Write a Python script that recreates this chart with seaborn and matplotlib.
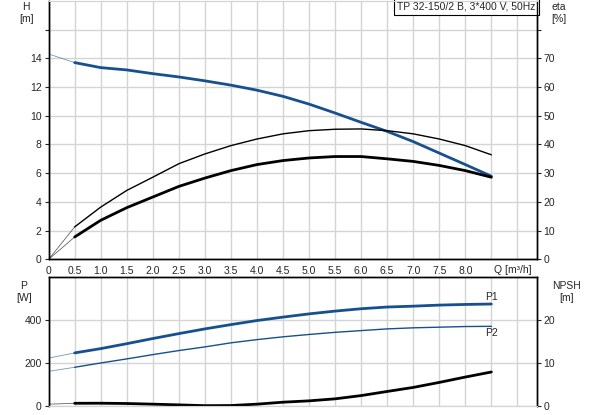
import matplotlib
matplotlib.use("Agg")
import matplotlib.pyplot as plt
import seaborn as sns
import pandas as pd

sns.set_style("white")
plt.rcParams['font.family'] = ['Liberation Sans', 'DejaVu Sans']

# flow points (m3/h); first segment 0-0.5 is drawn thin
q = [0, 0.5, 1.0, 1.5, 2.0, 2.5, 3.0, 3.5, 4.0, 4.5, 5.0, 5.5, 6.0, 6.5, 7.0, 7.5, 8.0, 8.5]
head = [14.3, 13.7, 13.35, 13.19, 12.93, 12.7, 12.43, 12.13, 11.78, 11.35,
        10.81, 10.19, 9.54, 8.91, 8.2, 7.4, 6.6, 5.79]
eta1 = [0, 11.3, 18.2, 24.0, 28.6, 33.3, 36.7, 39.6, 41.9, 43.7,
        44.8, 45.3, 45.4, 44.8, 43.7, 41.9, 39.6, 36.4]
eta2 = [0, 7.8, 13.6, 18.0, 21.7, 25.4, 28.3, 30.9, 33.0, 34.4,
        35.3, 35.8, 35.8, 35.0, 34.1, 32.7, 30.9, 28.6]
p1 = [223, 247, 267, 290, 314, 337, 359, 379, 398, 414,
      429, 442, 453, 461, 465, 470, 473, 475]
p2 = [161, 180, 200, 219, 239, 258, 275, 294, 309, 322,
      333, 343, 351, 359, 364, 367, 370, 371]
npsh = [0.4, 0.6, 0.62, 0.55, 0.4, 0.23, 0.05, 0.08, 0.4, 0.86,
        1.17, 1.64, 2.4, 3.36, 4.3, 5.47, 6.72, 7.9]

x_ticks = [0, 0.5, 1.0, 1.5, 2.0, 2.5, 3.0, 3.5, 4.0, 4.5, 5.0, 5.5, 6.0, 6.5, 7.0, 7.5, 8.0, 8.5, 9.0]
x_labels = ['0', '0.5', '1.0', '1.5', '2.0', '2.5', '3.0', '3.5', '4.0', '4.5', '5.0',
            '5.5', '6.0', '6.5', '7.0', '7.5', '8.0', '', '']
q_label = 'Q [m\u00b3/h]'
title = 'TP 32-150/2 B, 3*400 V, 50Hz'

df = pd.DataFrame({'q': q, 'head': head, 'eta1': eta1, 'eta2': eta2,
                   'p1': p1, 'p2': p2, 'npsh': npsh})
start = df.iloc[:2]
main = df.iloc[1:]

BLUE = '#17508f'
GRID = '#d4d4d4'
FS = 7.5

fig = plt.figure(figsize=(5.93, 4.15), dpi=100)
ax = fig.add_axes([0.082, 0.375, 0.823, 0.623])
ax2 = ax.twinx()
bx = fig.add_axes([0.082, 0.022, 0.823, 0.31])
bx2 = bx.twinx()


def seg(a, col, color, lw):
    sns.lineplot(data=start, x='q', y=col, ax=a, color=color, lw=0.6, alpha=0.6)
    sns.lineplot(data=main, x='q', y=col, ax=a, color=color, lw=lw)


seg(ax, 'head', BLUE, 2.0)
seg(ax2, 'eta1', 'black', 1.0)
seg(ax2, 'eta2', 'black', 2.0)
seg(bx, 'p1', BLUE, 2.0)
seg(bx, 'p2', BLUE, 1.0)
seg(bx2, 'npsh', 'black', 2.0)

for a in (ax, ax2, bx, bx2):
    a.set_xlim(0, 9.37)
    a.set_xlabel('')
    a.set_ylabel('')
    a.tick_params(labelsize=FS, length=3, width=0.8, pad=2)

ax.set_ylim(0, 18)
ax2.set_ylim(0, 90)
ax.set_yticks(range(0, 17, 2))
ax.set_yticklabels([str(v) for v in range(0, 15, 2)] + [''])
ax2.set_yticks(range(0, 81, 10))
ax2.set_yticklabels([str(v) for v in range(0, 71, 10)] + [''])
ax.set_xticks(x_ticks)
ax.set_xticklabels(x_labels)
ax.text(8.55, -0.02, q_label, transform=ax.get_xaxis_transform(), ha='left', va='top',
        fontsize=FS)

bx.set_ylim(0, 600)
bx2.set_ylim(0, 30)
bx.set_yticks([0, 200, 400])
bx2.set_yticks([0, 10, 20])
bx.set_xticks(x_ticks)
bx.set_xticklabels([])
bx.tick_params(axis='x', length=0)
bx2.tick_params(axis='x', length=0)

for a in (ax, bx):
    a.grid(True, color=GRID, lw=1.0)
    a.set_axisbelow(True)
for a in (ax2, bx2):
    a.grid(False)

for a in (ax, ax2):
    a.spines['top'].set_color(GRID)
    for s in ('left', 'right', 'bottom'):
        a.spines[s].set_color('black')
        a.spines[s].set_linewidth(1.0)
for a in (bx, bx2):
    a.spines['bottom'].set_color(GRID)
    for s in ('left', 'right', 'top'):
        a.spines[s].set_color('black')
        a.spines[s].set_linewidth(1.0)

ax.text(0.998, 0.997, title, transform=ax.transAxes, ha='right', va='top', fontsize=FS,
        bbox=dict(boxstyle='square,pad=0.3', fc='white', ec='black', lw=0.8), zorder=10)

fig.text(0.044, 0.995, 'H\n[m]', ha='center', va='top', fontsize=FS, linespacing=1.3)
fig.text(0.942, 0.995, 'eta\n[%]', ha='center', va='top', fontsize=FS, linespacing=1.3)
fig.text(0.040, 0.324, 'P\n[W]', ha='center', va='top', fontsize=FS, linespacing=1.3)
fig.text(0.955, 0.324, 'NPSH\n[m]', ha='center', va='top', fontsize=FS, linespacing=1.3)

bx.text(q[-1], p1[-1] + 10, 'P1', ha='center', va='bottom', fontsize=FS)
bx.text(q[-1], p2[-1] - 10, 'P2', ha='center', va='top', fontsize=FS)

fig.savefig('out.png', dpi=100)
plt.close()
